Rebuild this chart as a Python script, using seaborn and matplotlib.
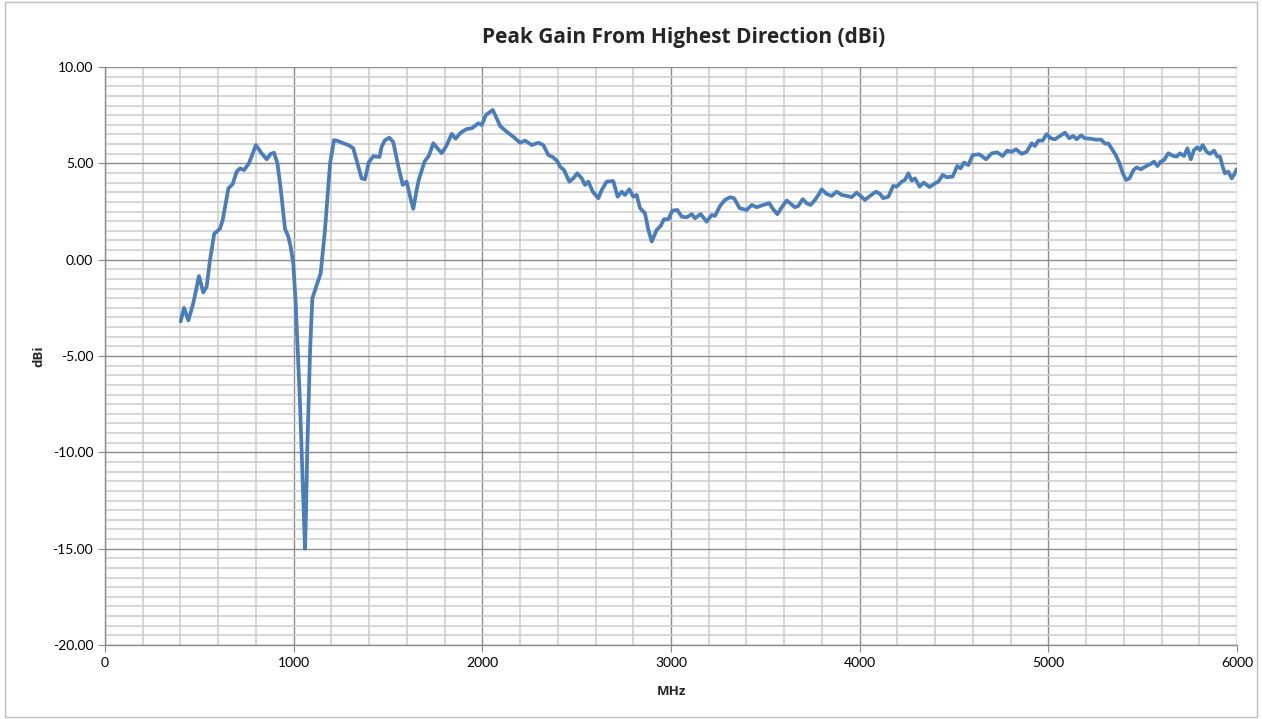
import seaborn as sns
import matplotlib.pyplot as plt
import matplotlib.patches as mpatches
from matplotlib.ticker import MultipleLocator, FormatStrFormatter
import pandas as pd

# frequency (MHz)
freq = [
    401, 419, 442, 468, 498, 521, 539, 556, 579, 609, 624, 654, 677, 698, 716, 737,
    763, 800, 830, 857, 878, 896, 914, 930, 954, 972, 984, 998, 1010, 1033, 1051, 1060,
    1065, 1072, 1087, 1099, 1131, 1143, 1166, 1193, 1214, 1237, 1263, 1290, 1316, 1338,
    1360, 1378, 1398, 1422, 1455, 1466, 1484, 1507, 1528, 1555, 1578, 1599, 1617, 1634,
    1652, 1663, 1694, 1717, 1740, 1762, 1785, 1809, 1838, 1858, 1885, 1917, 1944, 1979,
    1997, 2019, 2055, 2076, 2094, 2129, 2164, 2200, 2226, 2262, 2297, 2323, 2350, 2376,
    2398, 2412, 2433, 2461, 2482, 2503, 2527, 2544, 2562, 2585, 2615, 2633, 2659, 2694,
    2717, 2739, 2756, 2779, 2800, 2818, 2836, 2862, 2880, 2898, 2924, 2945, 2963, 2986,
    3007, 3033, 3057, 3083, 3110, 3127, 3157, 3189, 3216, 3233, 3260, 3286, 3313, 3334,
    3364, 3401, 3428, 3454, 3489, 3521, 3542, 3564, 3587, 3613, 3631, 3657, 3675, 3698,
    3719, 3740, 3763, 3781, 3799, 3825, 3852, 3878, 3905, 3931, 3958, 3984, 4005, 4028,
    4055, 4087, 4108, 4125, 4152, 4178, 4196, 4223, 4240, 4258, 4276, 4293, 4318, 4339,
    4371, 4399, 4417, 4440, 4461, 4493, 4517, 4535, 4553, 4576, 4599, 4634, 4670, 4700,
    4729, 4758, 4782, 4806, 4829, 4859, 4885, 4912, 4929, 4947, 4970, 4991, 5012, 5035,
    5062, 5088, 5111, 5132, 5150, 5173, 5194, 5221, 5250, 5280, 5300, 5318, 5338, 5359,
    5377, 5395, 5412, 5430, 5451, 5469, 5490, 5507, 5530, 5548, 5560, 5578, 5596, 5613,
    5636, 5663, 5680, 5698, 5719, 5737, 5755, 5772, 5790, 5804, 5818, 5839, 5857, 5878,
    5896, 5910, 5924, 5936, 5954, 5972, 5984, 5998,
]

# peak gain (dBi)
gain = [
    -3.2, -2.5, -3.15, -2.26, -0.85, -1.7, -1.4, -0.05, 1.35, 1.6, 2.06, 3.7, 3.93, 4.57, 4.74, 4.65,
    5.0, 5.95, 5.52, 5.21, 5.49, 5.55, 5.0, 3.8, 1.6, 1.19, 0.67, -0.2, -2.1, -7.3, -12.5, -15.0,
    -13.3, -9.9, -4.7, -2.0, -1.05, -0.71, 1.54, 5.0, 6.21, 6.15, 6.04, 5.95, 5.78, 5.0,
    4.22, 4.17, 5.05, 5.37, 5.33, 5.86, 6.2, 6.33, 6.1, 4.83, 3.88, 4.05, 3.27, 2.64,
    3.62, 4.14, 5.1, 5.4, 6.04, 5.78, 5.53, 5.9, 6.53, 6.28, 6.59, 6.78, 6.82, 7.08,
    6.99, 7.51, 7.77, 7.34, 6.94, 6.64, 6.38, 6.07, 6.18, 5.95, 6.07, 5.95, 5.43, 5.31,
    5.1, 4.83, 4.65, 4.05, 4.22, 4.48, 4.22, 3.88, 4.05, 3.53, 3.19, 3.62, 4.05, 4.08,
    3.27, 3.53, 3.36, 3.65, 3.27, 3.36, 2.67, 2.41, 1.54, 0.94, 1.54, 1.75, 2.10, 2.10,
    2.54, 2.58, 2.23, 2.20, 2.36, 2.15, 2.37, 1.97, 2.32, 2.27, 2.79, 3.10, 3.24, 3.19,
    2.67, 2.58, 2.84, 2.72, 2.84, 2.93, 2.61, 2.36, 2.72, 3.07, 2.93, 2.72, 2.79, 3.14,
    2.93, 2.84, 3.10, 3.36, 3.65, 3.41, 3.31, 3.53, 3.36, 3.31, 3.24, 3.48, 3.31, 3.10,
    3.31, 3.53, 3.41, 3.19, 3.27, 3.83, 3.79, 4.05, 4.14, 4.48, 4.10, 4.22, 3.79, 4.00,
    3.77, 3.96, 4.05, 4.40, 4.28, 4.31, 4.86, 4.74, 5.04, 4.91, 5.43, 5.47, 5.21, 5.52,
    5.57, 5.38, 5.66, 5.60, 5.73, 5.49, 5.60, 6.04, 5.90, 6.18, 6.18, 6.52, 6.30, 6.25,
    6.42, 6.59, 6.30, 6.42, 6.25, 6.45, 6.3, 6.28, 6.23, 6.23, 6.02, 6.03, 5.73, 5.4,
    5.0, 4.48, 4.14, 4.22, 4.65, 4.79, 4.69, 4.79, 4.91, 5.0, 5.09, 4.86, 5.09, 5.17,
    5.52, 5.38, 5.35, 5.52, 5.38, 5.78, 5.21, 5.69, 5.83, 5.69, 5.95, 5.60, 5.49, 5.66,
    5.35, 5.35, 4.83, 4.48, 4.57, 4.22, 4.40, 4.69,
]

df = pd.DataFrame({"MHz": freq, "dBi": gain})

sns.set_style("white")
plt.rcParams["font.family"] = ["Lato", "DejaVu Sans"]

fig = plt.figure(figsize=(12.62, 7.19), dpi=100)
ax = fig.add_axes([105 / 1262, 1 - 645 / 719, 1132 / 1262, 578 / 719])

sns.lineplot(data=df, x="MHz", y="dBi", ax=ax, color="#4a7ebb", linewidth=2.7, zorder=3)
for ln in ax.lines:
    ln.set_solid_joinstyle("round")
    ln.set_solid_capstyle("round")

ax.set_xlim(0, 6000)
ax.set_ylim(-20, 10)
ax.xaxis.set_major_locator(MultipleLocator(1000))
ax.xaxis.set_minor_locator(MultipleLocator(200))
ax.yaxis.set_major_locator(MultipleLocator(5))
ax.yaxis.set_minor_locator(MultipleLocator(0.5))
ax.yaxis.set_major_formatter(FormatStrFormatter("%.2f"))

ax.grid(which="major", color="#8c8c8c", linewidth=1.0)
ax.grid(which="minor", color="#cccccc", linewidth=1.1)
ax.set_axisbelow(True)

for side in ["top", "right"]:
    ax.spines[side].set_visible(False)
for side in ["left", "bottom"]:
    ax.spines[side].set_color("#8c8c8c")
    ax.spines[side].set_linewidth(1.0)

ax.tick_params(which="major", direction="out", length=5, color="#8c8c8c",
               labelsize=10, labelcolor="black", left=True, bottom=True)
ax.tick_params(which="minor", length=0)

bold = ["Open Sans", "DejaVu Sans"]
ax.set_xlabel("MHz", fontsize=9.5, fontweight="bold", family=bold, labelpad=12)
ax.set_ylabel("dBi", fontsize=9.5, fontweight="bold", family=bold, labelpad=5)
fig.text(684 / 1262, 1 - 37 / 719, "Peak Gain From Highest Direction (dBi)", fontsize=15,
         fontweight="bold", family=bold, ha="center", va="center")

# outer chart border
fig.patches.append(mpatches.Rectangle((0.004, 0.003), 0.992, 0.994, transform=fig.transFigure,
                                      fill=False, edgecolor="#bfbfbf", linewidth=1.0))

fig.savefig("out.png", dpi=100)
